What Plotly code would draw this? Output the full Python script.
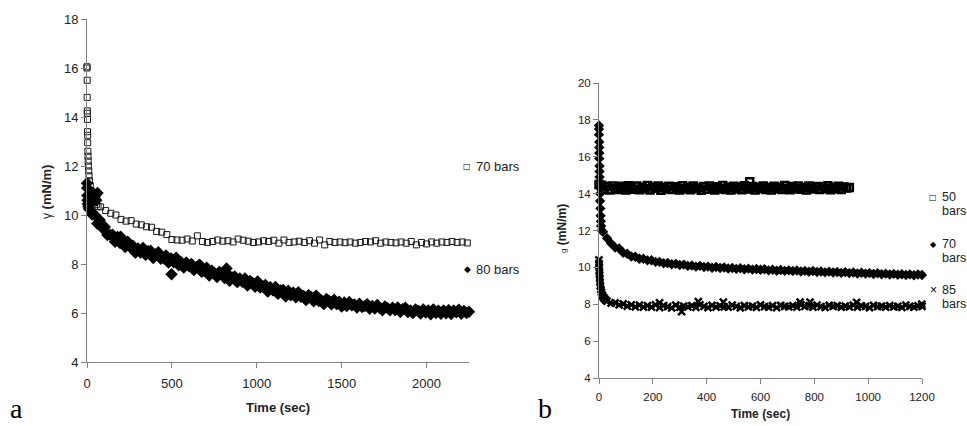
import plotly.graph_objects as go

# --- panel a : gamma vs time, 70 and 80 bars ---
t70a_start = [0, 0, 1, 1, 2, 2, 3, 3, 4, 4, 5, 6, 7, 8, 10, 12, 15, 19, 24, 30, 38, 46, 55, 65]
g70a_start = [16.05, 16.0, 15.5, 14.8, 14.25, 14.15, 13.9, 13.4, 13.25, 12.95, 12.6, 12.4,
              12.2, 12.0, 11.8, 11.6, 11.4, 11.2, 11.0, 10.85, 10.7, 10.55, 10.42, 10.35]
t70a = list(range(80, 2241, 30))
g70a = [10.33, 10.18, 10.07, 10.0, 9.82, 9.75, 9.77, 9.63, 9.6, 9.52,
        9.5, 9.33, 9.3, 9.2, 9.0, 8.98, 8.97, 9.02, 8.94, 9.15,
        8.92, 8.88, 8.92, 8.98, 8.93, 8.95, 8.9, 9.02, 8.97, 8.93,
        8.88, 8.9, 8.95, 8.92, 8.97, 8.85, 8.98, 8.88, 8.9, 8.93,
        8.88, 8.95, 8.85, 8.98, 8.78, 8.92, 8.88, 8.9, 8.87, 8.9,
        8.85, 8.88, 8.92, 8.9, 8.95, 8.85, 8.9, 8.88, 8.86, 8.9,
        8.85, 8.92, 8.78, 8.88, 8.82, 8.9, 8.85, 8.9, 8.88, 8.92,
        8.88, 8.9, 8.86]

t80a_start = [0, 1, 2, 3, 5, 8, 11, 35, 45, 55, 62]
g80a_start = [11.3, 11.1, 10.8, 10.6, 10.45, 10.35, 10.25, 10.9, 10.75, 10.6, 10.9]
t80a = list(range(15, 2251, 15))
g80a = [10.42, 10.02, 10.01, 9.65, 9.80, 9.47, 9.51, 9.18, 9.20, 9.20,
        8.91, 9.11, 8.85, 8.89, 8.69, 8.91, 8.68, 8.75, 8.46, 8.64,
        8.47, 8.66, 8.37, 8.52, 8.54, 8.24, 8.39, 8.48, 8.21, 8.24,
        8.35, 8.06, 8.23, 8.07, 8.26, 7.95, 8.07, 7.85, 8.06, 7.92,
        8.00, 7.75, 7.87, 7.96, 7.68, 7.71, 7.85, 7.53, 7.73, 7.63,
        7.47, 7.68, 7.59, 7.43, 7.62, 7.31, 7.45, 7.49, 7.26, 7.41,
        7.27, 7.41, 7.12, 7.31, 7.23, 7.07, 7.29, 7.04, 7.08, 7.15,
        6.87, 7.05, 6.93, 7.06, 6.78, 6.92, 6.94, 6.67, 6.91, 6.72,
        6.84, 6.64, 6.85, 6.66, 6.70, 6.53, 6.73, 6.66, 6.48, 6.71,
        6.49, 6.52, 6.36, 6.57, 6.50, 6.35, 6.54, 6.36, 6.46, 6.26,
        6.43, 6.28, 6.45, 6.31, 6.35, 6.22, 6.38, 6.24, 6.28, 6.36,
        6.17, 6.29, 6.18, 6.33, 6.20, 6.11, 6.27, 6.20, 6.11, 6.22,
        6.12, 6.23, 6.04, 6.16, 6.22, 6.04, 6.10, 6.00, 6.15, 6.09,
        5.98, 6.15, 6.02, 6.10, 5.95, 6.15, 6.00, 6.09, 5.97, 6.11,
        5.99, 6.12, 5.96, 6.10, 6.03, 6.14, 5.97, 6.08, 6.00, 6.05]
t80a_out = [198, 498, 665, 822]
g80a_out = [9.12, 7.58, 7.96, 7.82]

# --- panel b : g vs time, 50, 70 and 85 bars ---
t50b = list(range(0, 931, 10))
g50b = [14.50, 14.45, 14.25, 14.38, 14.20, 14.42, 14.28, 14.22, 14.40, 14.30,
        14.19, 14.43, 14.33, 14.24, 14.41, 14.21, 14.35, 14.27, 14.44, 14.20,
        14.36, 14.29, 14.42, 14.18, 14.34, 14.25, 14.40, 14.22, 14.37, 14.30,
        14.19, 14.43, 14.26, 14.35, 14.21, 14.41, 14.28, 14.33, 14.18, 14.39,
        14.24, 14.42, 14.29, 14.20, 14.37, 14.26, 14.44, 14.22, 14.34, 14.19,
        14.40, 14.27, 14.36, 14.21, 14.43, 14.30, 14.25, 14.38, 14.20, 14.35,
        14.28, 14.42, 14.23, 14.33, 14.19, 14.40, 14.27, 14.36, 14.22, 14.44,
        14.29, 14.21, 14.38, 14.26, 14.41, 14.24, 14.35, 14.20, 14.42, 14.30,
        14.25, 14.39, 14.22, 14.37, 14.28, 14.43, 14.21, 14.34, 14.26, 14.40,
        14.23, 14.36, 14.30, 14.33]
t50b_out = [560]
g50b_out = [14.65]

t70b_start = [0, 0, 0, 1, 1, 1, 1, 2, 2, 2, 3, 3, 4, 4, 5, 6, 7, 8, 10]
g70b_start = [17.7, 17.5, 17.2, 16.8, 16.5, 16.2, 15.9, 15.5, 15.2, 14.9, 14.6, 14.3,
              14.0, 13.6, 13.2, 12.8, 12.5, 12.25, 12.0]
t70b = list(range(15, 1201, 15))
g70b = [11.93, 11.58, 11.30, 11.08, 11.02, 10.79, 10.74, 10.59, 10.58, 10.47,
        10.47, 10.38, 10.39, 10.30, 10.30, 10.22, 10.24, 10.17, 10.19, 10.13,
        10.15, 10.08, 10.10, 10.04, 10.08, 10.02, 10.04, 9.98, 10.02, 9.97,
        9.99, 9.94, 9.97, 9.92, 9.95, 9.90, 9.93, 9.88, 9.91, 9.87,
        9.90, 9.84, 9.87, 9.82, 9.86, 9.81, 9.84, 9.80, 9.83, 9.78,
        9.81, 9.76, 9.80, 9.75, 9.78, 9.73, 9.77, 9.72, 9.75, 9.70,
        9.74, 9.69, 9.72, 9.67, 9.71, 9.66, 9.69, 9.64, 9.68, 9.63,
        9.66, 9.61, 9.65, 9.60, 9.63, 9.59, 9.62, 9.57, 9.61, 9.59]

t85b_start = [0, 0, 1, 1, 2, 3, 4, 5, 7, 9, 12, 16, 20, 25]
g85b_start = [10.4, 10.2, 10.0, 9.8, 9.6, 9.4, 9.2, 9.0, 8.8, 8.65, 8.5, 8.38, 8.3, 8.22]
t85b = list(range(30, 1201, 15))
g85b = [8.17, 8.06, 8.08, 7.96, 8.02, 7.90, 7.97, 7.86, 7.95, 7.84,
        7.93, 7.85, 7.96, 7.82, 7.92, 7.87, 7.80, 7.95, 7.84, 7.90,
        7.86, 7.93, 7.83, 7.96, 7.88, 7.82, 7.94, 7.85, 7.91, 7.86,
        7.84, 7.95, 7.88, 7.81, 7.93, 7.86, 7.90, 7.83, 7.96, 7.87,
        7.85, 7.92, 7.82, 7.94, 7.88, 7.86, 7.93, 7.84, 7.97, 7.89,
        7.91, 7.84, 7.95, 7.87, 7.83, 7.94, 7.88, 7.92, 7.85, 7.90,
        7.86, 7.95, 7.84, 7.91, 7.88, 7.82, 7.94, 7.87, 7.90, 7.85,
        7.93, 7.86, 7.89, 7.83, 7.95, 7.88, 7.85, 7.91, 7.88]
t85b_out = [225, 307, 369, 462, 747, 784, 957, 1199]
g85b_out = [8.08, 7.6, 8.14, 8.12, 8.12, 8.12, 8.1, 8.0]

W, H = 967, 426
SANS = "Liberation Sans, Arial, sans-serif"
SERIF = "Liberation Serif, Times New Roman, serif"
AXIS_GREY = "#808080"


def px(x):
    return x / W


def py(y):
    return 1 - y / H


fig = go.Figure()

fig.add_trace(go.Scatter(
    x=t70a_start + t70a, y=g70a_start + g70a, mode="markers",
    marker=dict(symbol="square-open", size=6, color="#1a1a1a", line=dict(width=1)),
    xaxis="x", yaxis="y", cliponaxis=False, showlegend=False))
fig.add_trace(go.Scatter(
    x=t80a_start + t80a + t80a_out, y=g80a_start + g80a + g80a_out, mode="markers",
    marker=dict(symbol="diamond", size=9.5, color="black"),
    xaxis="x", yaxis="y", cliponaxis=False, showlegend=False))

fig.add_trace(go.Scatter(
    x=t50b + t50b_out, y=g50b + g50b_out, mode="markers",
    marker=dict(symbol="square-open", size=7, color="black", line=dict(width=2.5)),
    xaxis="x2", yaxis="y2", cliponaxis=False, showlegend=False))
fig.add_trace(go.Scatter(
    x=t70b_start + t70b, y=g70b_start + g70b, mode="markers",
    marker=dict(symbol="diamond", size=8, color="black"),
    xaxis="x2", yaxis="y2", cliponaxis=False, showlegend=False))
fig.add_trace(go.Scatter(
    x=t85b_start + t85b + t85b_out, y=g85b_start + g85b + g85b_out, mode="markers",
    marker=dict(symbol="x-thin", size=7, color="black", line=dict(width=2.5, color="black")),
    xaxis="x2", yaxis="y2", cliponaxis=False, showlegend=False))

axis_style = dict(
    showline=True, linecolor=AXIS_GREY, linewidth=1,
    ticks="outside", ticklen=5, tickcolor=AXIS_GREY, tickwidth=1,
    showgrid=False, zeroline=False, fixedrange=True, automargin=False,
)

fig.update_layout(
    width=W, height=H,
    margin=dict(l=0, r=0, t=0, b=0),
    paper_bgcolor="white", plot_bgcolor="white",
    font=dict(family=SANS, color="#222222"),
    xaxis=dict(domain=[px(87), px(469)], range=[0, 2250], tickvals=[0, 500, 1000, 1500, 2000],
               anchor="y", tickfont=dict(size=13), ticklabelstandoff=4, **axis_style),
    yaxis=dict(domain=[py(362), py(19)], range=[4, 18], dtick=2,
               anchor="x", tickfont=dict(size=13), **axis_style),
    xaxis2=dict(domain=[px(599), px(922)], range=[0, 1200], dtick=200,
                anchor="y2", tickfont=dict(size=11.5), ticklabelstandoff=3, **axis_style),
    yaxis2=dict(domain=[py(378), py(83)], range=[4, 20], dtick=2,
                anchor="x2", tickfont=dict(size=11.5), **axis_style),
)

annots = [
    # axis titles
    dict(text="<b>Time (sec)</b>", x=px(278), y=py(407), font=dict(size=13)),
    dict(text="<b>Time (sec)</b>", x=px(760), y=py(414), font=dict(size=12)),
    dict(text="<span style='font-size:12px'>γ</span> <b>(mN/m)</b>", x=px(46), y=py(192),
         textangle=-90, font=dict(size=13)),
    dict(text="<span style='font-size:8px'>g</span> <b>(mN/m)</b>", x=px(562), y=py(229),
         textangle=-90, font=dict(size=12)),
    # panel letters
    dict(text="a", x=px(16), y=0, yanchor="bottom", font=dict(family=SERIF, size=28, color="black")),
    dict(text="b", x=px(545), y=0, yanchor="bottom", font=dict(family=SERIF, size=28, color="black")),
    # legend panel a
    dict(text="□", x=px(467), y=py(166), font=dict(family="DejaVu Sans", size=8, color="black")),
    dict(text="70 bars", x=px(474), y=py(166), xanchor="left", font=dict(size=13)),
    dict(text="◆", x=px(467), y=py(269), font=dict(family="DejaVu Sans", size=9, color="black")),
    dict(text="80 bars", x=px(474), y=py(269), xanchor="left", font=dict(size=13)),
    # legend panel b
    dict(text="□", x=px(933), y=py(197), font=dict(family="DejaVu Sans", size=8, color="black")),
    dict(text="50", x=px(940), y=py(197), xanchor="left", font=dict(size=12.5)),
    dict(text="bars", x=px(940), y=py(211), xanchor="left", font=dict(size=12.5)),
    dict(text="◆", x=px(933), y=py(244), font=dict(family="DejaVu Sans", size=8, color="black")),
    dict(text="70", x=px(940), y=py(244), xanchor="left", font=dict(size=12.5)),
    dict(text="bars", x=px(940), y=py(258), xanchor="left", font=dict(size=12.5)),
    dict(text="×", x=px(933), y=py(290), font=dict(size=12, color="black")),
    dict(text="85", x=px(940), y=py(290), xanchor="left", font=dict(size=12.5)),
    dict(text="bars", x=px(940), y=py(304), xanchor="left", font=dict(size=12.5)),
]
for a in annots:
    a.setdefault("xref", "paper")
    a.setdefault("yref", "paper")
    a.setdefault("showarrow", False)
    a.setdefault("xanchor", "center")
    a.setdefault("yanchor", "middle")
fig.update_layout(annotations=annots)

# the page body has a default 8px margin; drop it so the figure fills the window
fig.write_html("out.html", config={"displayModeBar": False},
               post_script="document.body.style.margin = '0';")
